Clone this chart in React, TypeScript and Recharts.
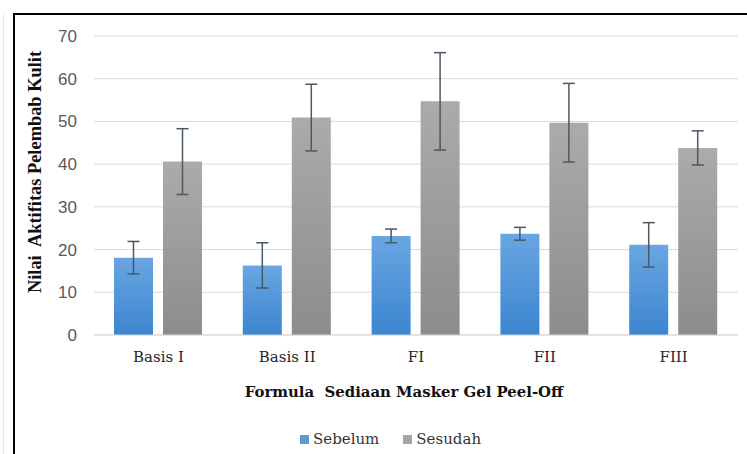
import React from 'react';
import { BarChart, Bar, XAxis, YAxis, CartesianGrid, Legend, ErrorBar } from 'recharts';

const categories = ['Basis I', 'Basis II', 'FI', 'FII', 'FIII'];
const sebelum = [18.1, 16.3, 23.2, 23.7, 21.1];
const sebelumErr = [3.8, 5.3, 1.6, 1.5, 5.2];
const sesudah = [40.6, 50.9, 54.7, 49.7, 43.8];
const sesudahErr = [7.7, 7.8, 11.4, 9.2, 4.0];
const yTicks = [0, 10, 20, 30, 40, 50, 60, 70];

const data = categories.map((c, i) => ({
  name: c,
  sebelum: sebelum[i],
  sebelumErr: sebelumErr[i],
  sesudah: sesudah[i],
  sesudahErr: sesudahErr[i],
}));

const SERIF = '"DejaVu Serif", serif';
const TIMES = '"Liberation Serif", "Times New Roman", serif';

const renderLegend = () => (
  <div
    style={{
      height: 20,
      display: 'flex',
      alignItems: 'center',
      paddingLeft: 300,
      fontFamily: SERIF,
      fontSize: 15,
      color: '#333',
      boxSizing: 'border-box',
    }}
  >
    <span style={{ display: 'inline-block', width: 9, height: 9, background: '#5b9bd5', marginRight: 4 }} />
    <span>Sebelum</span>
    <span style={{ display: 'inline-block', width: 9, height: 9, background: '#a5a5a5', marginLeft: 24, marginRight: 4 }} />
    <span>Sesudah</span>
  </div>
);

const YTitle = () => {
  const x = 35;
  const y = 172;
  return (
    <text
      x={x}
      y={y}
      transform={`rotate(-90 ${x} ${y})`}
      textAnchor="middle"
      dominantBaseline="central"
      fontFamily={TIMES}
      fontWeight="bold"
      fontSize={18.4}
      fill="#111"
      style={{ whiteSpace: 'pre' }}
    >
      Nilai  Aktifitas Pelembab Kulit
    </text>
  );
};

const XTitle = (props: any) => {
  const vb = props.viewBox || { x: 94, y: 335, width: 644, height: 94 };
  const x = vb.x + vb.width / 2 - 12;
  const y = vb.y + 62;
  return (
    <text
      x={x}
      y={y}
      textAnchor="middle"
      fontFamily={SERIF}
      fontWeight="bold"
      fontSize={14.9}
      fill="#111"
      style={{ whiteSpace: 'pre' }}
    >
      Formula  Sediaan Masker Gel Peel-Off
    </text>
  );
};

export default function App() {
  return (
    <div style={{ position: 'absolute', left: 0, top: 0, width: 747, height: 454, background: '#fff', overflow: 'hidden' }}>
      <div style={{ position: 'absolute', left: 3, top: 14, width: 1, height: 460, background: '#e8e8e8' }} />
      <div
        style={{
          position: 'absolute',
          left: 13,
          top: 13,
          width: 760,
          height: 460,
          borderTop: '2px solid #000',
          borderLeft: '2px solid #000',
        }}
      />
      <BarChart
        width={747}
        height={454}
        data={data}
        margin={{ top: 36, right: 9, left: 0, bottom: 5 }}
        barGap={10}
        barSize={39}
      >
        <defs>
          <linearGradient id="gBlue" x1="0" y1="0" x2="0" y2="1">
            <stop offset="0%" stopColor="#69a6e2" />
            <stop offset="100%" stopColor="#3c85d0" />
          </linearGradient>
          <linearGradient id="gGray" x1="0" y1="0" x2="0" y2="1">
            <stop offset="0%" stopColor="#ababab" />
            <stop offset="100%" stopColor="#8c8c8c" />
          </linearGradient>
        </defs>
        <CartesianGrid vertical={false} stroke="#d9d9d9" strokeWidth={1} />
        <XAxis
          dataKey="name"
          height={94}
          axisLine={{ stroke: '#d9d9d9' }}
          tickLine={false}
          tickMargin={10}
          tick={{ fontFamily: SERIF, fontSize: 15, fill: '#262626' }}
          interval={0}
          label={{ content: XTitle } as any}
        />
        <YAxis
          width={94}
          domain={[0, 70]}
          ticks={yTicks}
          axisLine={false}
          tickLine={false}
          tickMargin={11}
          tick={{ fontFamily: '"Liberation Sans", Arial, sans-serif', fontSize: 17, fill: '#595959' }}
          label={{ content: YTitle } as any}
        />
        <Legend verticalAlign="bottom" content={renderLegend} wrapperStyle={{ left: 0, width: 747 }} />
        <Bar dataKey="sebelum" name="Sebelum" fill="url(#gBlue)" isAnimationActive={false}>
          <ErrorBar dataKey="sebelumErr" direction="y" width={6} stroke="#4a5866" strokeWidth={1.5} isAnimationActive={false} />
        </Bar>
        <Bar dataKey="sesudah" name="Sesudah" fill="url(#gGray)" isAnimationActive={false}>
          <ErrorBar dataKey="sesudahErr" direction="y" width={6} stroke="#4a5866" strokeWidth={1.5} isAnimationActive={false} />
        </Bar>
      </BarChart>
    </div>
  );
}
